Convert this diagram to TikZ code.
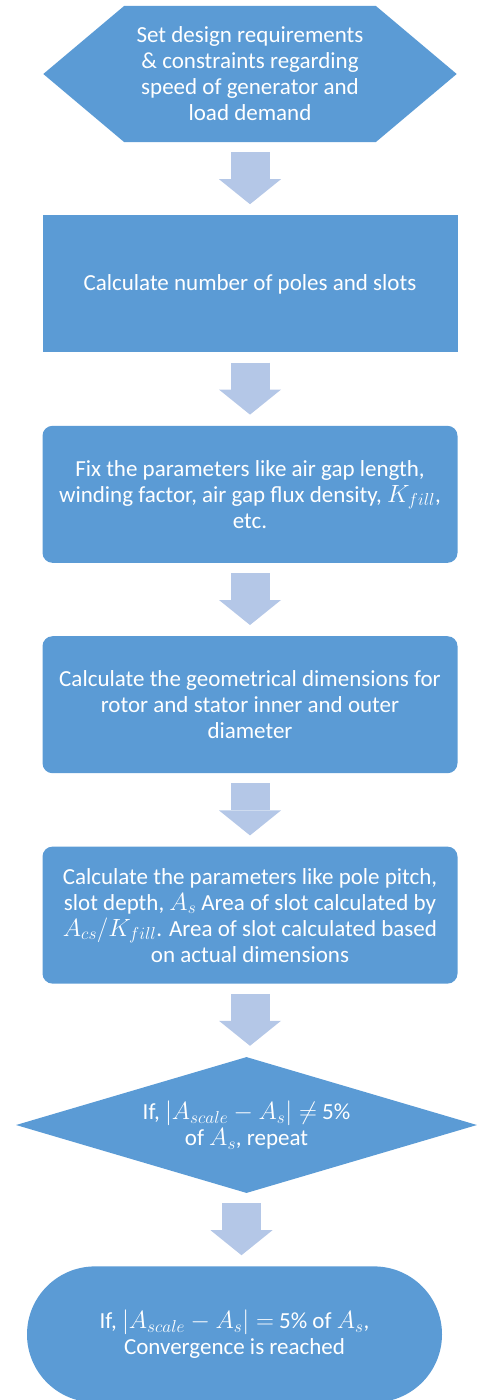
\documentclass[tikz,border=0pt]{standalone}
\usepackage{fontspec}
\setmainfont{Carlito}
\usetikzlibrary{positioning, calc, arrows.meta, shapes.geometric, shapes.misc, backgrounds}
\definecolor{BoxBlue}{HTML}{5B9BD5}
\definecolor{ArrowBlue}{HTML}{B4C7E7}
\definecolor{White}{HTML}{FFFFFF}
\tikzset{
    basenode/.style={inner sep=0pt, text=White, align=center, font=\fontsize{23}{26}\selectfont},
    hexnode/.style={basenode, rectangle, minimum width=251pt, minimum height=136pt},
    flatbox/.style={basenode, rectangle, fill=BoxBlue, minimum width=415pt, minimum height=137pt},
    roundbox/.style={flatbox, rounded corners=10pt},
    decision/.style={basenode, diamond, aspect=3.39, fill=BoxBlue, minimum width=461pt, minimum height=136pt},
    terminal/.style={basenode, rounded rectangle, fill=BoxBlue, minimum width=415pt, minimum height=136pt},
    flowarrow/.style={draw=ArrowBlue, line width=39pt, -{Triangle[width=62pt, length=25pt, line width=0pt]}, shorten <=10pt, shorten >=11pt},
}
\begin{document}
\begin{tikzpicture}[x=1pt, y=1pt]
    \useasboundingbox (0,0) rectangle (477,-1400);

    % Start (hexagon)
    \node[hexnode] (spec) at (250,-74) {Set design requirements\\ \& constraints regarding\\ speed of generator and\\ load demand};
    \begin{scope}[on background layer]
        \fill[BoxBlue] ([xshift=-81pt]spec.west) -- (spec.north west) -- (spec.north east)
            -- ([xshift=81pt]spec.east) -- (spec.south east) -- (spec.south west) -- cycle;
    \end{scope}

    % Process steps
    \node[flatbox, below=73pt of spec] (poles) {Calculate number of poles and slots};
    \node[roundbox, below=73pt of poles] (params) {Fix the parameters like air gap length,\\ winding factor, air gap flux density, $K_{fill}$,\\ etc.};
    \node[roundbox, below=73pt of params] (geom) {Calculate the geometrical dimensions for\\ rotor and stator inner and outer\\ diameter};
    \node[roundbox, below=73pt of geom] (slots) {Calculate the parameters like pole pitch,\\ slot depth, $A_s$ Area of slot calculated by\\ $A_{cs}/K_{fill}$. Area of slot calculated based\\ on actual dimensions};

    % Check and end
    \node[decision, below=73pt of slots, xshift=-3.5pt] (check) {If, $|A_{scale}-A_s|\neq$ 5\%\\ of $A_s$, repeat};
    \node[terminal, below=73pt of check, xshift=-12pt] (done) {If, $|A_{scale}-A_s|=$ 5\% of $A_s$,\\ Convergence is reached};

    % Block arrows
    \draw[flowarrow] (spec.south) -- (poles.north);
    \draw[flowarrow] (poles.south) -- (params.north);
    \draw[flowarrow] (params.south) -- (geom.north);
    \draw[flowarrow] (geom.south) -- (slots.north);
    \draw[flowarrow] (slots.south) -- (slots.south |- check.north);
    \draw[flowarrow] ([xshift=-5pt]check.south) -- ([xshift=-5pt]check.south |- done.north);
\end{tikzpicture}
\end{document}
